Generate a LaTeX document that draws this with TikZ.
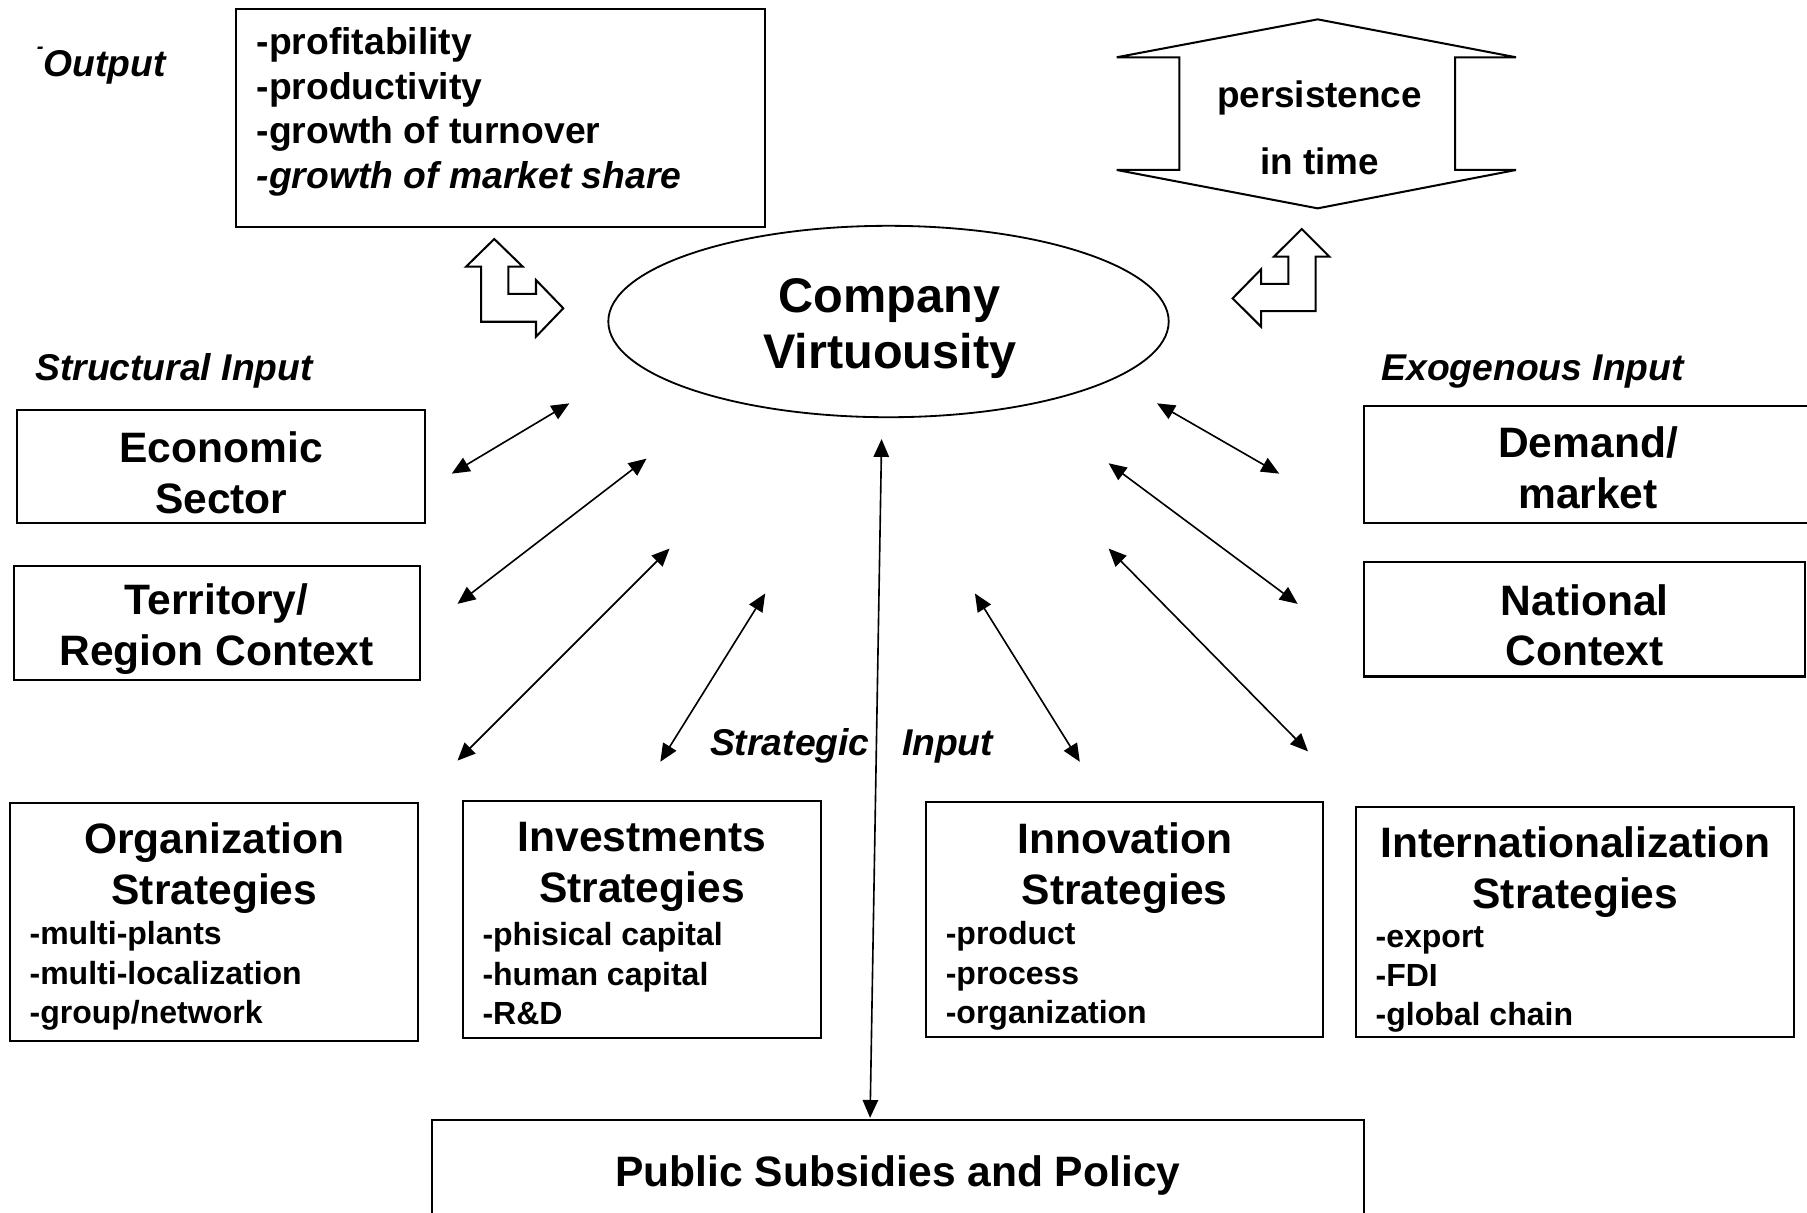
\documentclass[tikz,border=0pt]{standalone}
\usepackage{fontspec}
\setmainfont{Liberation Sans}
\usetikzlibrary{
  shapes.geometric,
  arrows.meta
}
\tikzset{
  <->,
  >={Triangle[length=4.4pt,width=3.8pt]},
  line width=0.5pt,
  box/.style={draw, line width=0.5pt, inner sep=0pt},
  head/.style={inner sep=0pt, align=center, font=\fontsize{10.5}{12.5}\selectfont\bfseries},
  items/.style={inner sep=0pt, align=left, anchor=west, font=\fontsize{7.9}{9.7}\selectfont\bfseries},
  tag/.style={inner sep=0pt, font=\fontsize{9.2}{11}\selectfont\bfseries\itshape},
  blockarrow/.style={draw, line width=0.5pt, fill=white, line join=miter}
}

\begin{document}
\begin{tikzpicture}[x=0.01cm, y=-0.01cm]
    \useasboundingbox (0,0) rectangle (1568,1052);

    % output side
    \node[tag] (out) at (88,57) {\raisebox{1.2ex}{\tiny-}Output};
    \node[box, minimum width=4.59cm, minimum height=1.89cm] (outbox) at (434.5,102.5) {};
    \node[items, font=\fontsize{9.2}{11}\selectfont\bfseries] (outlist) at (222,97)
      {-profitability\\-productivity\\-growth of turnover\\\textit{-growth of market share}};

    % persistence in time
    \draw[blockarrow] (1143.4,16.8) -- (1315.5,49.7) -- (1262.6,49.7) -- (1262.6,147.5)
      -- (1315.5,147.5) -- (1143.4,180.8) -- (969,147.5) -- (1023.4,147.5)
      -- (1023.4,49.7) -- (969,49.7) -- cycle;
    \node[inner sep=0pt, align=center, font=\fontsize{9.1}{16.5}\selectfont\bfseries] (persist) at (1145,111)
      {persistence\\in time};

    % turning arrows
    \draw[blockarrow] (428.9,207.4) -- (404.4,231.4) -- (417.4,231.4) -- (417.4,279.2)
      -- (465.1,279.2) -- (465.1,292.2) -- (488.8,267.5) -- (465.1,243.0) -- (465.1,255.1)
      -- (441.1,255.1) -- (441.1,231.4) -- (453.6,231.4) -- cycle;
    \draw[blockarrow] (1129.6,198.7) -- (1153.5,222.7) -- (1141.7,222.7) -- (1141.7,269.9)
      -- (1094.3,269.9) -- (1094.3,283.5) -- (1069.6,258.9) -- (1094.3,233.7) -- (1094.3,246.4)
      -- (1117.9,246.4) -- (1117.9,222.7) -- (1105.5,222.7) -- cycle;

    % the firm
    \node[draw, ellipse, line width=0.45pt, minimum width=4.86cm, minimum height=1.66cm,
      inner sep=0pt] (firm) at (771,279) {};
    \node[inner sep=0pt, align=center, font=\fontsize{12}{13.7}\selectfont\bfseries] (firmtext) at (772,285)
      {Company\\Virtuousity};

    % structural and exogenous inputs
    \node[tag] (struct) at (151,322) {Structural Input};
    \node[tag] (exo) at (1330,322) {Exogenous Input};

    \node[box, minimum width=3.54cm, minimum height=0.98cm] (sec) at (192,405) {};
    \node[head] (sectext) at (192,410) {Economic\\Sector};
    \node[box, minimum width=3.52cm, minimum height=0.99cm] (ter) at (188,540.5) {};
    \node[head] (tertext) at (188,546) {Territory/\\Region Context};
    \node[box, minimum width=3.88cm, minimum height=1.02cm] (dem) at (1378,403) {};
    \node[head] (demtext) at (1378,406) {Demand/\\market};
    \node[box, minimum width=3.82cm, minimum height=0.99cm] (nat) at (1375,537.5) {};
    \node[head] (nattext) at (1375,542.5) {National\\Context};

    % strategic inputs
    \node[tag] (strat) at (739,647) {Strategic\hspace{8pt}Input};

    \node[box, minimum width=3.54cm, minimum height=2.06cm] (org) at (186,800) {};
    \node[head] (orgtext) at (186,753) {Organization\\Strategies};
    \node[items] (orglist) at (25,847) {-multi-plants\\-multi-localization\\-group/network};

    \node[box, minimum width=3.10cm, minimum height=2.06cm] (inv) at (557,798) {};
    \node[head] (invtext) at (557,752) {Investments\\Strategies};
    \node[items] (invlist) at (418,845) {-phisical capital\\-human capital\\-R\&D};

    \node[box, minimum width=3.44cm, minimum height=2.04cm] (inn) at (976,798) {};
    \node[head] (inntext) at (976,753) {Innovation\\Strategies};
    \node[items] (innlist) at (820,847) {-product\\-process\\-organization};

    \node[box, minimum width=3.80cm, minimum height=2.00cm] (int) at (1367,800) {};
    \node[head] (inttext) at (1367,757) {Internationalization\\Strategies};
    \node[items] (intlist) at (1193,850) {-export\\-FDI\\-global chain};

    \node[box, minimum width=8.08cm, minimum height=1.00cm] (pub) at (779,1022) {};
    \node[head] (pubtext) at (779,1020) {Public Subsidies and Policy};

    % links to the firm
    \coordinate (sec1) at (392,411);  \coordinate (sec2) at (494,350);
    \coordinate (ter1) at (397,524);  \coordinate (ter2) at (561,398);
    \coordinate (org1) at (397,660);  \coordinate (org2) at (581,476);
    \coordinate (inv1) at (573,661);  \coordinate (inv2) at (664,515);
    \coordinate (pub1) at (765,381);  \coordinate (pub2) at (755,970);
    \coordinate (inn1) at (846,515);  \coordinate (inn2) at (937,661);
    \coordinate (int1) at (962,476);  \coordinate (int2) at (1135,652);
    \coordinate (nat1) at (962,402);  \coordinate (nat2) at (1126,524);
    \coordinate (dem1) at (1004,350); \coordinate (dem2) at (1110,411);

    \draw (sec1) -- (sec2);
    \draw (ter1) -- (ter2);
    \draw (org1) -- (org2);
    \draw (inv1) -- (inv2);
    \draw (pub1) -- (pub2);
    \draw (inn1) -- (inn2);
    \draw (int1) -- (int2);
    \draw (nat1) -- (nat2);
    \draw (dem1) -- (dem2);
\end{tikzpicture}
\end{document}
